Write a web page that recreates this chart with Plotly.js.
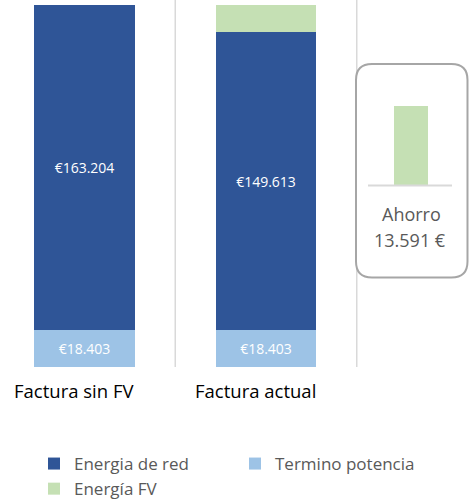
<!DOCTYPE html>
<html>
<head>
<meta charset="utf-8">
<script src="https://cdn.plot.ly/plotly-3.0.1.min.js"></script>
<style>html,body{margin:0;padding:0;background:#fff;}#chart{width:473px;height:499px;}</style>
</head>
<body>
<div id="chart"></div>
<script>
const categories = ['Factura sin FV', 'Factura actual'];
const terminoPotencia = [18403, 18403];
const energiaRed = [163204, 149613];
const energiaFV = [0, 13591];
const ahorroLabel = 'Ahorro';
const ahorro = energiaRed[0] - energiaRed[1];

function fmtES(v) {
  return String(Math.round(v)).replace(/\B(?=(\d{3})+(?!\d))/g, '.');
}

const FONT = '"Open Sans", "Noto Sans", sans-serif';
const total = terminoPotencia[0] + energiaRed[0];

const traces = [
  {
    type: 'bar', name: 'Termino potencia', x: categories, y: terminoPotencia,
    marker: {color: '#9DC3E6'}, width: 0.556,
    texttemplate: '€%{y:,.0f}', textposition: 'inside', insidetextanchor: 'middle',
    textfont: {color: '#ffffff', size: 14, family: FONT},
    legendrank: 2, hoverinfo: 'skip'
  },
  {
    type: 'bar', name: 'Energia de red', x: categories, y: energiaRed,
    marker: {color: '#2F5597'}, width: 0.556,
    texttemplate: '€%{y:,.0f}', textposition: 'inside', insidetextanchor: 'middle',
    textfont: {color: '#ffffff', size: 14, family: FONT},
    legendrank: 1, hoverinfo: 'skip'
  },
  {
    type: 'bar', name: 'Energía FV', x: categories, y: energiaFV,
    marker: {color: '#C5E0B4'}, width: 0.556,
    textposition: 'none',
    legendrank: 3, hoverinfo: 'skip'
  },
  {
    type: 'bar', name: ahorroLabel, x: [0], y: [ahorro],
    xaxis: 'x2', yaxis: 'y2', width: 1,
    marker: {color: '#C5E0B4'}, showlegend: false, textposition: 'none', hoverinfo: 'skip'
  }
];

const H = 367; // plot area height in px
const catAnnotations = categories.map(c => ({
  xref: 'x', yref: 'paper', x: c, y: (H - 390) / H, xanchor: 'center', yanchor: 'middle',
  xshift: -11, text: c, showarrow: false, font: {size: 18.5, color: '#000000', family: FONT}
}));

const layout = {
  width: 473, height: 499,
  margin: {l: 0, r: 0, t: 0, b: 132},
  barmode: 'stack',
  separators: ',.',
  paper_bgcolor: '#ffffff', plot_bgcolor: 'rgba(0,0,0,0)',
  font: {family: FONT, color: '#595959'},
  showlegend: true,
  xaxis: {
    type: 'category', range: [-0.4656, 2.1405],
    showticklabels: false,
    showgrid: false, zeroline: false, showline: false, ticks: '',
    fixedrange: true
  },
  yaxis: {
    range: [0, total * H / 362], visible: false, showgrid: false, zeroline: false, fixedrange: true
  },
  xaxis2: {
    domain: [394 / 473, 428 / 473], range: [-0.5, 0.5], visible: false, anchor: 'y2', fixedrange: true
  },
  yaxis2: {
    domain: [(H - 185) / H, (H - 106) / H], range: [0, ahorro], visible: false, anchor: 'x2', fixedrange: true
  },
  shapes: [
    {type: 'line', xref: 'x', yref: 'paper', x0: 0.5, x1: 0.5, y0: 0, y1: 1,
     line: {color: '#D9D9D9', width: 1.5}, layer: 'below'},
    {type: 'line', xref: 'x', yref: 'paper', x0: 1.5, x1: 1.5, y0: 0, y1: 1,
     line: {color: '#D9D9D9', width: 1.5}, layer: 'below'},
    {type: 'path', xref: 'paper', yref: 'paper', layer: 'below',
     path: (function () {
       const x0 = 356, x1 = 467.5, y0 = 64, y1 = 277.5, r = 16;
       const px = v => (v / 473).toFixed(5);
       const py = v => ((H - v) / H).toFixed(5);
       return 'M' + px(x0 + r) + ',' + py(y0) +
         ' L' + px(x1 - r) + ',' + py(y0) +
         ' Q' + px(x1) + ',' + py(y0) + ' ' + px(x1) + ',' + py(y0 + r) +
         ' L' + px(x1) + ',' + py(y1 - r) +
         ' Q' + px(x1) + ',' + py(y1) + ' ' + px(x1 - r) + ',' + py(y1) +
         ' L' + px(x0 + r) + ',' + py(y1) +
         ' Q' + px(x0) + ',' + py(y1) + ' ' + px(x0) + ',' + py(y1 - r) +
         ' L' + px(x0) + ',' + py(y0 + r) +
         ' Q' + px(x0) + ',' + py(y0) + ' ' + px(x0 + r) + ',' + py(y0) + ' Z';
     })(),
     fillcolor: '#ffffff', line: {color: '#A6A6A6', width: 2}},
    {type: 'line', xref: 'paper', yref: 'paper', layer: 'above',
     x0: 368 / 473, x1: 452 / 473, y0: (H - 185.5) / H, y1: (H - 185.5) / H,
     line: {color: '#D9D9D9', width: 2}}
  ],
  annotations: [
    {xref: 'paper', yref: 'paper', x: 411 / 473, y: (H - 214) / H, xanchor: 'center', yanchor: 'middle',
     text: ahorroLabel, showarrow: false, font: {size: 18, color: '#595959', family: FONT}},
    {xref: 'paper', yref: 'paper', x: 410 / 473, y: (H - 240) / H, xanchor: 'center', yanchor: 'middle',
     text: fmtES(ahorro) + ' €', showarrow: false, font: {size: 18, color: '#595959', family: FONT}}
  ].concat(catAnnotations),
  legend: {
    orientation: 'h', xref: 'paper', x: 34 / 473, xanchor: 'left',
    yref: 'container', y: (499 - 446) / 499, yanchor: 'top',
    traceorder: 'normal', entrywidth: 156, entrywidthmode: 'pixels',
    tracegroupgap: 0,
    font: {size: 17, color: '#595959', family: FONT},
    bgcolor: 'rgba(0,0,0,0)'
  }
};

Plotly.newPlot('chart', traces, layout, {displayModeBar: false, staticPlot: true});
</script>
</body>
</html>
